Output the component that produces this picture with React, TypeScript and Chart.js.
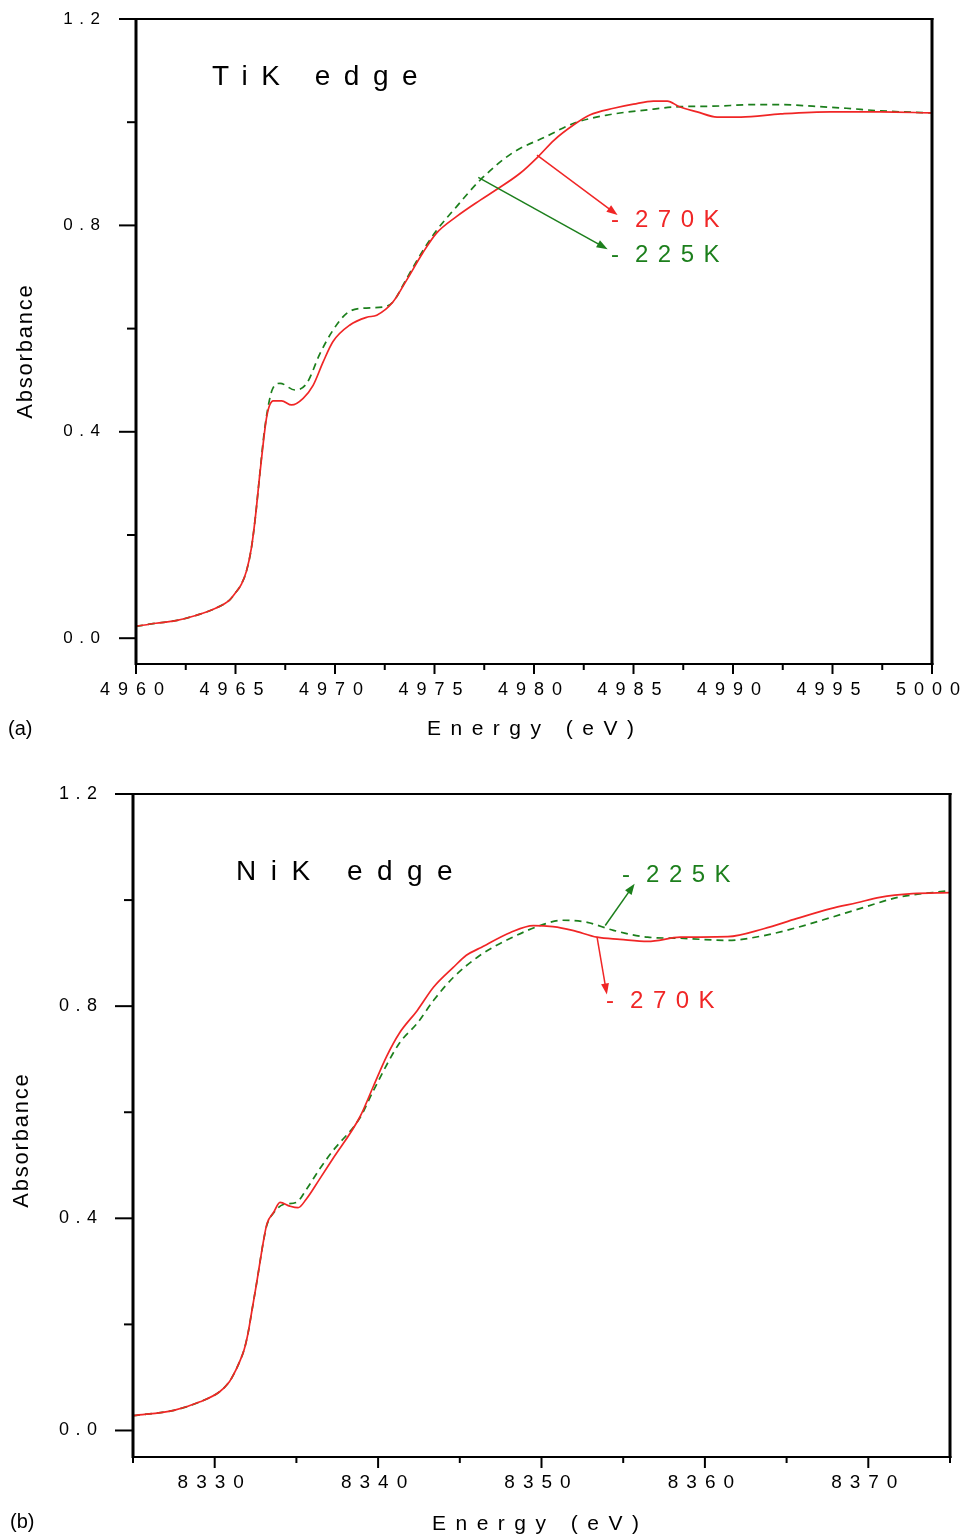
import React, { useEffect, useRef } from "react";
import { Chart, registerables } from "chart.js";

Chart.register(...registerables);

const FONT = '"Liberation Sans", Arial, Helvetica, sans-serif';
const RED = "#f02626";
const GREEN = "#1c7f1c";
const INK = "#000000";

const seriesNames = ["270 K", "225 K"];

// ---------- (a) Ti K edge ----------
const tiEnergy270 = [4960, 4961, 4962, 4963, 4964, 4964.7, 4965.0, 4965.3, 4965.55, 4965.8, 4966.0, 4966.2, 4966.4, 4966.55, 4966.7, 4966.9, 4967.32, 4967.82, 4968.4, 4968.9, 4969.4, 4969.9, 4970.75, 4971.6, 4972.1, 4972.9, 4973.6, 4974.4, 4975.1, 4976.1, 4977.3, 4978.1, 4979.3, 4980.2, 4981.0, 4982.0, 4982.8, 4984.0, 4985.0, 4986.0, 4986.7, 4987.3, 4988.2, 4989.2, 4990.4, 4992.4, 4994.9, 4997.4, 5000];
const tiAbs270 = [0.023, 0.029, 0.034, 0.044, 0.058, 0.074, 0.088, 0.105, 0.13, 0.175, 0.235, 0.31, 0.38, 0.425, 0.45, 0.46, 0.46, 0.452, 0.465, 0.49, 0.535, 0.575, 0.607, 0.622, 0.626, 0.651, 0.694, 0.746, 0.785, 0.817, 0.849, 0.869, 0.901, 0.933, 0.965, 0.995, 1.014, 1.027, 1.035, 1.041, 1.041, 1.03, 1.02, 1.01, 1.01, 1.016, 1.02, 1.02, 1.018];
const tiEnergy225 = [4960, 4961, 4962, 4963, 4964, 4964.7, 4965.0, 4965.3, 4965.55, 4965.8, 4966.0, 4966.2, 4966.4, 4966.6, 4966.85, 4967.24, 4967.99, 4968.58, 4969.25, 4969.9, 4970.6, 4971.26, 4972.43, 4972.9, 4973.6, 4974.4, 4975.1, 4976.1, 4977.3, 4978.9, 4980.6, 4982.0, 4983.7, 4985.7, 4987.3, 4989.0, 4991.0, 4992.4, 4994.0, 4995.7, 4997.4, 5000];
const tiAbs225 = [0.023, 0.029, 0.034, 0.044, 0.058, 0.074, 0.088, 0.105, 0.13, 0.175, 0.235, 0.31, 0.385, 0.44, 0.482, 0.494, 0.481, 0.494, 0.552, 0.597, 0.63, 0.639, 0.642, 0.651, 0.697, 0.75, 0.79, 0.836, 0.888, 0.94, 0.972, 0.998, 1.014, 1.024, 1.03, 1.031, 1.034, 1.034, 1.031, 1.027, 1.022, 1.018];
const tiXRange = [4960, 5000];
const tiXStep = 2.5;
const tiXLabelStep = 5;

// ---------- (b) Ni K edge ----------
const niEnergy270 = [8325, 8327.5, 8329.1, 8330.3, 8330.9, 8331.2, 8331.5, 8331.8, 8332.05, 8332.3, 8332.55, 8332.8, 8333.0, 8333.2, 8333.6, 8334.0, 8334.6, 8335.1, 8335.6, 8336.4, 8337.2, 8338.9, 8339.7, 8340.5, 8341.3, 8342.4, 8343.4, 8344.6, 8345.4, 8346.2, 8348.1, 8349.5, 8350.7, 8351.9, 8353.4, 8354.8, 8356.5, 8358.5, 8361.4, 8363.6, 8365.6, 8367.7, 8369.3, 8370.7, 8372.7, 8375];
const niAbs270 = [0.028, 0.038, 0.054, 0.073, 0.092, 0.108, 0.128, 0.152, 0.185, 0.23, 0.275, 0.323, 0.36, 0.39, 0.411, 0.43, 0.423, 0.42, 0.436, 0.473, 0.511, 0.592, 0.648, 0.704, 0.749, 0.792, 0.836, 0.873, 0.896, 0.909, 0.939, 0.952, 0.95, 0.943, 0.93, 0.926, 0.922, 0.93, 0.931, 0.946, 0.965, 0.984, 0.995, 1.005, 1.012, 1.014];
const niEnergy225 = [8325, 8327.5, 8329.1, 8330.3, 8330.9, 8331.2, 8331.5, 8331.8, 8332.05, 8332.3, 8332.55, 8332.8, 8333.0, 8333.2, 8333.6, 8334.2, 8335.0, 8335.6, 8336.4, 8337.2, 8338.9, 8339.7, 8341.3, 8342.4, 8343.4, 8344.6, 8346.2, 8348.1, 8350.3, 8351.3, 8352.8, 8354.4, 8356.5, 8358.5, 8361.4, 8363.6, 8365.6, 8367.7, 8369.7, 8371.8, 8375];
const niAbs225 = [0.028, 0.038, 0.054, 0.073, 0.092, 0.108, 0.128, 0.152, 0.185, 0.23, 0.275, 0.323, 0.36, 0.388, 0.41, 0.426, 0.43, 0.454, 0.492, 0.526, 0.59, 0.64, 0.73, 0.768, 0.811, 0.854, 0.895, 0.928, 0.956, 0.962, 0.958, 0.943, 0.93, 0.928, 0.924, 0.933, 0.948, 0.967, 0.986, 1.005, 1.018];
const niXRange = [8325, 8375];
const niXStep = 5;
const niXLabelStep = 10;

// ---------- shared y axis ----------
const yRange = [-0.05, 1.2];
const yStep = 0.2;
const yLabelStep = 0.4;

type Arrow = { from: [number, number]; to: [number, number]; color: string };
type Tag = { dash: string; text: string; at: [number, number]; color: string };

interface PanelCfg {
  canvasTop: number;
  canvasHeight: number;
  pad: { top: number; right: number };
  yAxisWidth: number;
  xAxisHeight: number;
  xRange: number[];
  xStep: number;
  xLabelStep: number;
  e270: number[];
  a270: number[];
  e225: number[];
  a225: number[];
  xTickFont: number;
  xTickSpacing: number;
  xTickPad: number;
  yTickFont: number;
  yTickSpacing: number;
  yTickPad: number;
  xMajorLen: number;
  xMinorLen: number;
  yMajorLen: number;
  yMinorLen: number;
  title: string;
  titlePos: [number, number];
  titleSpacing: number;
  xTitlePos: [number, number];
  yTitlePos: [number, number];
  panelTag: string;
  panelTagPos: [number, number];
  arrows: Arrow[];
  tags: Tag[];
}

const panelA: PanelCfg = {
  canvasTop: 0,
  canvasHeight: 768,
  pad: { top: 19, right: 30 },
  yAxisWidth: 136,
  xAxisHeight: 104,
  xRange: tiXRange,
  xStep: tiXStep,
  xLabelStep: tiXLabelStep,
  e270: tiEnergy270,
  a270: tiAbs270,
  e225: tiEnergy225,
  a225: tiAbs225,
  xTickFont: 18,
  xTickSpacing: 8,
  xTickPad: 15,
  yTickFont: 17,
  yTickSpacing: 6.5,
  yTickPad: 29.5,
  xMajorLen: 10,
  xMinorLen: 6,
  yMajorLen: 17,
  yMinorLen: 9,
  title: "TiK edge",
  titlePos: [212, 85],
  titleSpacing: 13.5,
  xTitlePos: [427, 735],
  yTitlePos: [26, 352],
  panelTag: "(a)",
  panelTagPos: [8, 729],
  arrows: [
    { from: [4980.15, 0.936], to: [4984.2, 0.82], color: RED },
    { from: [4977.2, 0.893], to: [4983.7, 0.754], color: GREEN },
  ],
  tags: [
    { dash: "-", text: "270K", at: [4983.87, 0.797], color: RED },
    { dash: "-", text: "225K", at: [4983.87, 0.729], color: GREEN },
  ],
};

const panelB: PanelCfg = {
  canvasTop: 768,
  canvasHeight: 769,
  pad: { top: 26, right: 12 },
  yAxisWidth: 133,
  xAxisHeight: 80,
  xRange: niXRange,
  xStep: niXStep,
  xLabelStep: niXLabelStep,
  e270: niEnergy270,
  a270: niAbs270,
  e225: niEnergy225,
  a225: niAbs225,
  xTickFont: 19,
  xTickSpacing: 8,
  xTickPad: 14.5,
  yTickFont: 18,
  yTickSpacing: 6.5,
  yTickPad: 29.5,
  xMajorLen: 11,
  xMinorLen: 6,
  yMajorLen: 18,
  yMinorLen: 9,
  title: "NiK edge",
  titlePos: [236, 112],
  titleSpacing: 14.5,
  xTitlePos: [432, 762],
  yTitlePos: [22, 373],
  panelTag: "(b)",
  panelTagPos: [10, 754],
  arrows: [
    { from: [8353.9, 0.952], to: [8355.7, 1.031], color: GREEN },
    { from: [8353.4, 0.93], to: [8354.0, 0.822], color: RED },
  ],
  tags: [
    { dash: "-", text: "225K", at: [8354.93, 1.034], color: GREEN },
    { dash: "-", text: "270K", at: [8353.95, 0.797], color: RED },
  ],
};

const isMult = (v: number, step: number) => Math.abs(v / step - Math.round(v / step)) < 1e-6;

function zip(xs: number[], ys: number[]) {
  return xs.map((x, i) => ({ x, y: ys[i] }));
}

function makeDecor(p: PanelCfg) {
  return {
    id: "decor",
    beforeDraw(chart: any) {
      chart.ctx.letterSpacing = p.xTickSpacing + "px";
    },
    beforeDatasetsDraw(chart: any) {
      chart.ctx.letterSpacing = "0px";
    },
    afterDatasetsDraw(chart: any) {
      chart.ctx.letterSpacing = p.yTickSpacing + "px";
    },
    afterDraw(chart: any) {
      const ctx: CanvasRenderingContext2D = chart.ctx;
      const xs = chart.scales.x;
      const ys = chart.scales.y;
      const a = chart.chartArea;
      ctx.save();
      (ctx as any).letterSpacing = "0px";
      ctx.strokeStyle = INK;
      ctx.lineCap = "butt";

      const seg = (x1: number, y1: number, x2: number, y2: number, w: number) => {
        ctx.lineWidth = w;
        ctx.beginPath();
        ctx.moveTo(x1, y1);
        ctx.lineTo(x2, y2);
        ctx.stroke();
      };

      // tick marks (outward)
      for (const t of ys.ticks) {
        const py = ys.getPixelForValue(t.value);
        const len = isMult(t.value, yLabelStep) ? p.yMajorLen : p.yMinorLen;
        seg(a.left - len, py, a.left, py, 2);
      }
      for (const t of xs.ticks) {
        const px = xs.getPixelForValue(t.value);
        const len = isMult(t.value, p.xLabelStep) ? p.xMajorLen : p.xMinorLen;
        seg(px, a.bottom, px, a.bottom + len, 2);
      }

      // frame
      seg(a.left - 1, a.top, a.right + 1.5, a.top, 2);
      seg(a.left - 1, a.bottom, a.right + 1.5, a.bottom, 2);
      seg(a.left, a.top - 1, a.left, a.bottom + 1, 3);
      seg(a.right, a.top - 1, a.right, a.bottom + 1, 3);

      // arrows
      for (const ar of p.arrows) {
        const x1 = xs.getPixelForValue(ar.from[0]);
        const y1 = ys.getPixelForValue(ar.from[1]);
        const x2 = xs.getPixelForValue(ar.to[0]);
        const y2 = ys.getPixelForValue(ar.to[1]);
        const ang = Math.atan2(y2 - y1, x2 - x1);
        const hl = 11;
        const hw = 4;
        ctx.strokeStyle = ar.color;
        ctx.fillStyle = ar.color;
        ctx.lineWidth = 1.5;
        ctx.beginPath();
        ctx.moveTo(x1, y1);
        ctx.lineTo(x2 - Math.cos(ang) * hl * 0.8, y2 - Math.sin(ang) * hl * 0.8);
        ctx.stroke();
        ctx.beginPath();
        ctx.moveTo(x2, y2);
        ctx.lineTo(x2 - Math.cos(ang) * hl - Math.sin(ang) * hw, y2 - Math.sin(ang) * hl + Math.cos(ang) * hw);
        ctx.lineTo(x2 - Math.cos(ang) * hl + Math.sin(ang) * hw, y2 - Math.sin(ang) * hl - Math.cos(ang) * hw);
        ctx.closePath();
        ctx.fill();
      }

      // series tags
      ctx.textAlign = "left";
      ctx.textBaseline = "alphabetic";
      for (const tg of p.tags) {
        const x = xs.getPixelForValue(tg.at[0]);
        const y = ys.getPixelForValue(tg.at[1]);
        ctx.fillStyle = tg.color;
        ctx.font = `24px ${FONT}`;
        (ctx as any).letterSpacing = "0px";
        ctx.fillText(tg.dash, x, y);
        (ctx as any).letterSpacing = "9.5px";
        ctx.fillText(tg.text, x + 24, y);
      }

      // panel title
      ctx.fillStyle = INK;
      ctx.font = `28px ${FONT}`;
      (ctx as any).letterSpacing = p.titleSpacing + "px";
      ctx.fillText(p.title, p.titlePos[0], p.titlePos[1]);

      // x title
      ctx.font = `21px ${FONT}`;
      (ctx as any).letterSpacing = "9.5px";
      ctx.fillText("Energy (eV)", p.xTitlePos[0], p.xTitlePos[1]);

      // panel tag
      (ctx as any).letterSpacing = "0px";
      ctx.font = `20px ${FONT}`;
      ctx.textBaseline = "middle";
      ctx.fillText(p.panelTag, p.panelTagPos[0], p.panelTagPos[1]);

      // y title
      ctx.save();
      ctx.translate(p.yTitlePos[0], p.yTitlePos[1]);
      ctx.rotate(-Math.PI / 2);
      ctx.font = `22px ${FONT}`;
      (ctx as any).letterSpacing = "1.8px";
      ctx.textAlign = "center";
      ctx.textBaseline = "middle";
      ctx.fillText("Absorbance", 0.9, 0);
      ctx.restore();

      ctx.restore();
      (ctx as any).letterSpacing = "0px";
    },
  };
}

function buildConfig(p: PanelCfg): any {
  return {
    type: "line",
    data: {
      datasets: [
        {
          label: seriesNames[0],
          data: zip(p.e270, p.a270),
          borderColor: RED,
          borderWidth: 1.7,
          pointRadius: 0,
          fill: false,
          cubicInterpolationMode: "monotone",
        },
        {
          label: seriesNames[1],
          data: zip(p.e225, p.a225),
          borderColor: GREEN,
          borderWidth: 1.7,
          borderDash: [7, 5],
          pointRadius: 0,
          fill: false,
          cubicInterpolationMode: "monotone",
        },
      ],
    },
    options: {
      responsive: false,
      animation: false,
      devicePixelRatio: 1,
      events: [],
      layout: { padding: { left: 0, top: p.pad.top, right: p.pad.right, bottom: 0 } },
      plugins: { legend: { display: false }, tooltip: { enabled: false }, title: { display: false } },
      scales: {
        x: {
          type: "linear",
          min: p.xRange[0],
          max: p.xRange[1],
          grid: { display: false, drawTicks: false },
          border: { display: false },
          ticks: {
            stepSize: p.xStep,
            autoSkip: false,
            maxRotation: 0,
            minRotation: 0,
            includeBounds: false,
            padding: p.xTickPad,
            color: INK,
            font: { family: FONT, size: p.xTickFont },
            callback: (v: number) => (isMult(v, p.xLabelStep) ? String(v) : ""),
          },
          afterFit: (s: any) => {
            s.height = p.xAxisHeight;
            s.paddingLeft = 0;
            s.paddingRight = 0;
          },
        },
        y: {
          type: "linear",
          min: yRange[0],
          max: yRange[1],
          grid: { display: false, drawTicks: false },
          border: { display: false },
          ticks: {
            stepSize: yStep,
            includeBounds: false,
            autoSkip: false,
            padding: p.yTickPad,
            z: 1,
            color: INK,
            font: { family: FONT, size: p.yTickFont },
            callback: (v: number) => (isMult(v, yLabelStep) ? v.toFixed(1) : ""),
          },
          afterFit: (s: any) => {
            s.width = p.yAxisWidth;
            s.paddingTop = 0;
            s.paddingBottom = 0;
          },
        },
      },
    },
    plugins: [makeDecor(p)],
  };
}

function Panel({ cfg }: { cfg: PanelCfg }) {
  const ref = useRef<HTMLCanvasElement>(null);
  useEffect(() => {
    if (!ref.current) return;
    const chart = new Chart(ref.current, buildConfig(cfg));
    return () => chart.destroy();
  }, [cfg]);
  return (
    <canvas
      ref={ref}
      width={962}
      height={cfg.canvasHeight}
      style={{ position: "absolute", left: 0, top: cfg.canvasTop, width: 962, height: cfg.canvasHeight, display: "block" }}
    />
  );
}

export default function App() {
  return (
    <div style={{ position: "absolute", left: 0, top: 0, width: 962, height: 1537, background: "#ffffff", overflow: "hidden" }}>
      <Panel cfg={panelA} />
      <Panel cfg={panelB} />
    </div>
  );
}
